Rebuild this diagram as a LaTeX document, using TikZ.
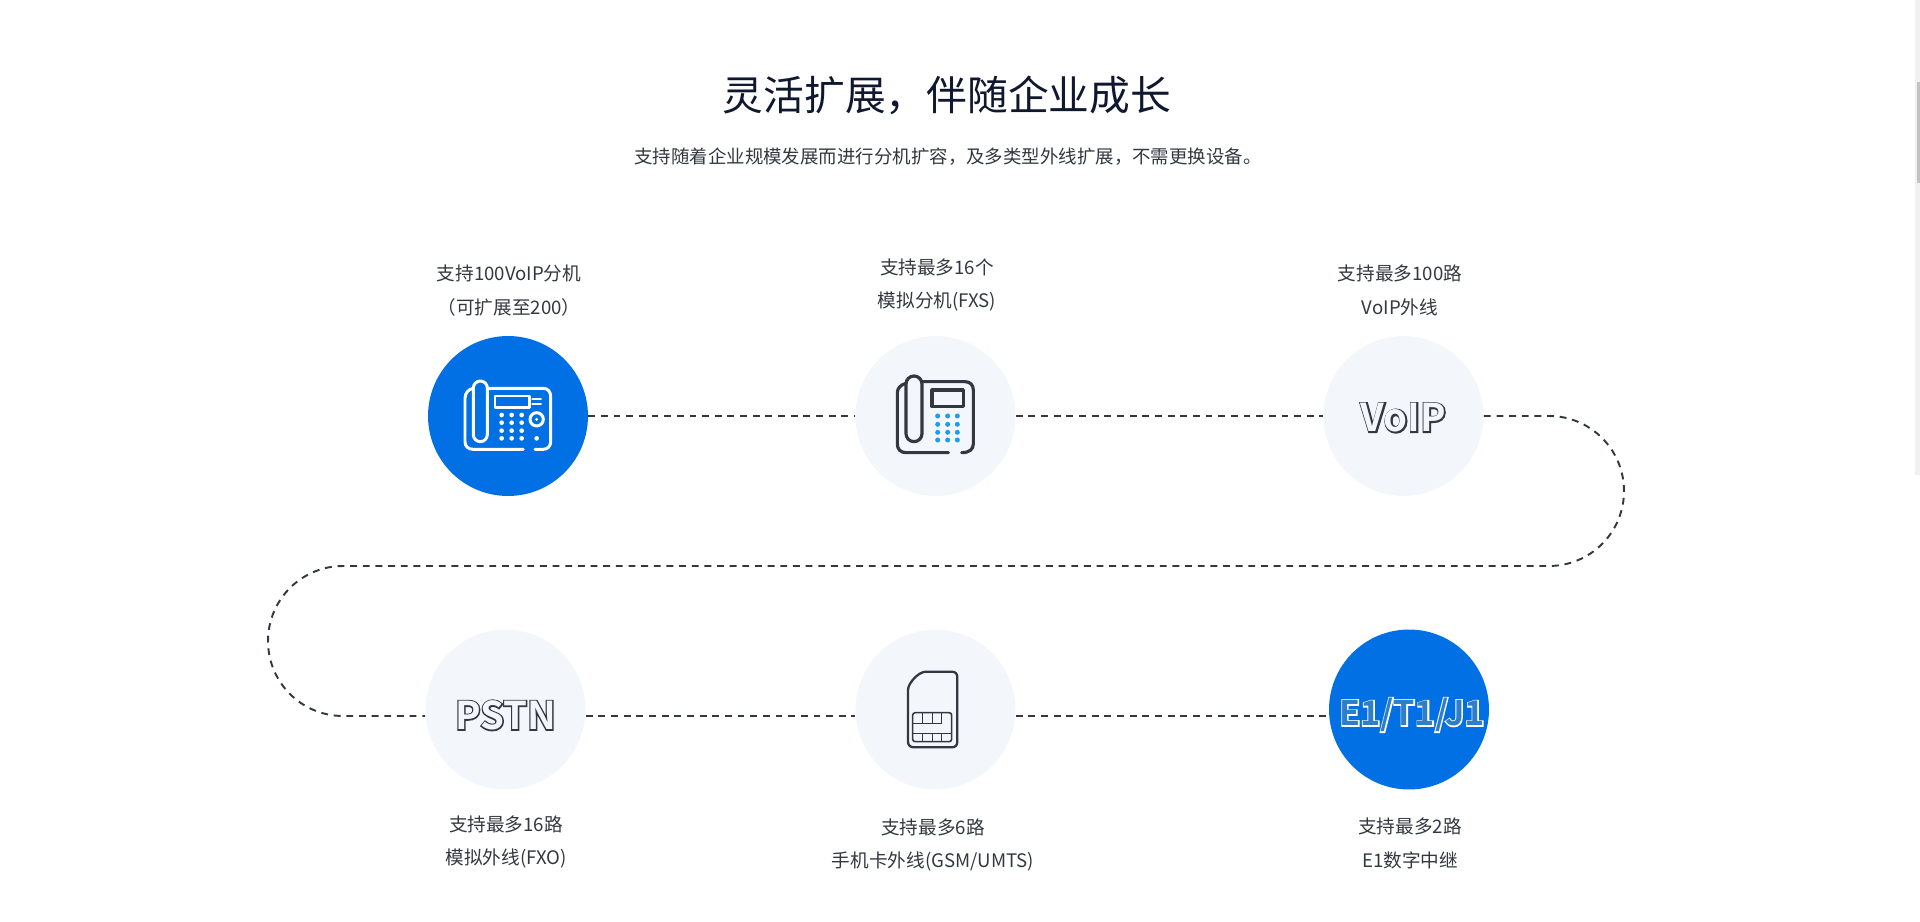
\documentclass[tikz,border=0pt]{standalone}
\usepackage{fontspec}
\setmainfont{Noto Sans CJK SC}
\newfontfamily\badgefill{Noto Sans CJK SC Bold}
\newfontfamily\badgeline{Noto Sans CJK SC Bold}[FakeBold=7]
\usetikzlibrary{positioning}
\definecolor{titleink}{HTML}{10182F}
\definecolor{bodyink}{HTML}{333840}
\definecolor{paleblue}{HTML}{F3F7FC}
\definecolor{mainblue}{HTML}{0070E4}
\definecolor{dotblue}{HTML}{1E9CF0}
\definecolor{chipblue}{HTML}{2F7FC8}
\newcommand{\outlined}[4]{\raisebox{#1}[0pt][0pt]{\rlap{\color{#2}\badgeline #4}{\color{#3}\badgefill #4}}}

\begin{document}
\begin{tikzpicture}[
    x=0.02cm, y=-0.02cm,
    title/.style={font=\fontsize{23.2pt}{27pt}\selectfont, text=titleink},
    subtitle/.style={font=\fontsize{10.5pt}{19.3pt}\selectfont, text=bodyink},
    caption/.style={align=center, font=\fontsize{10.6pt}{19.3pt}\selectfont, text=bodyink},
    stage/.style={circle, fill=paleblue, minimum size=3.2cm, inner sep=0pt},
    active/.style={stage, fill=mainblue},
    badge/.style={font=\fontsize{21.8pt}{24pt}\selectfont},
    link/.style={bodyink, line width=1.1pt, dash pattern=on 3.9pt off 3.3pt},
    whiteline/.style={white, line width=1.7pt, line cap=round, line join=round},
    darkline/.style={bodyink, line width=1.8pt, line cap=round, line join=round},
    simline/.style={bodyink, line width=0.9pt, line join=round}
]
\useasboundingbox (0,0) rectangle (1920,922);

% Heading
\node[title] (heading) at (947,95) {灵活扩展，伴随企业成长};
\node[subtitle] (subheading) at (948,157) {支持随着企业规模发展而进行分机扩容，及多类型外线扩展，不需更换设备。};

% Stages
\node[active] (ipext) at (508,416) {};
\node[stage] (fxs) at (935.5,416) {};
\node[stage, badge] (voip) at (1403.5,416) {\outlined{-9pt}{bodyink}{paleblue}{VoIP}};
\node[stage, badge] (pstn) at (505.5,709.5) {\outlined{-11.4pt}{bodyink}{paleblue}{PSTN}};
\node[stage] (gsm) at (935.5,709.5) {};
\node[active, badge, font=\fontsize{19.4pt}{24pt}\selectfont] (e1) at (1409,709.5) {\hspace*{0.12cm}\outlined{-9.2pt}{white}{chipblue}{E1/T1/J1}};

% Captions
\node[caption] (ipextcap) at (509,291) {支持100VoIP分机\\（可扩展至200）};
\node[caption] (fxscap) at (937,285) {支持最多16个\\模拟分机(FXS)};
\node[caption] (voipcap) at (1400,290) {支持最多100路\\VoIP外线};
\node[caption] (pstncap) at (506,842) {支持最多16路\\模拟外线(FXO)};
\node[caption] (gsmcap) at (933,845) {支持最多6路\\手机卡外线(GSM/UMTS)};
\node[caption] (e1cap) at (1410,843) {支持最多2路\\E1数字中继};

% Connectors
\coordinate (turnright) at (1549,416);
\coordinate (turnleft) at (343,566);
\draw[link] (ipext.east) -- (fxs.west);
\draw[link] (fxs.east) -- (voip.west);
\draw[link] (voip.east) -- (turnright) arc[start angle=90, end angle=-90, radius=1.5cm]
    -- (turnleft) arc[start angle=90, end angle=270, radius=1.5cm] -- ([yshift=-0.13cm]pstn.west);
\draw[link] ([yshift=-0.13cm]pstn.east) -- ([yshift=-0.13cm]gsm.west);
\draw[link] ([yshift=-0.13cm]gsm.east) -- ([yshift=-0.13cm]e1.west);

% Desk phone, white
\begin{scope}[shift={(410,320)}, x=0.00667cm, y=-0.00667cm]
\draw[whiteline] (190,205) .. controls (175,207) and (165,220) .. (165,235) -- (165,365)
    .. controls (165,380) and (175,388) .. (190,388) -- (340,388);
\draw[whiteline] (375,388) -- (400,388) .. controls (413,388) and (422,378) .. (422,365) -- (422,230)
    .. controls (422,215) and (413,205) .. (400,205) -- (232,205);
\draw[whiteline] (190,204) arc[start angle=180, end angle=0, radius=0.14cm] -- (232,344)
    arc[start angle=0, end angle=-180, radius=0.14cm] -- cycle;
\draw[whiteline] (255,228) rectangle (358,262);
\draw[whiteline] (368,237) -- (392,237);
\draw[whiteline] (368,252) -- (392,252);
\draw[whiteline] (380,298) circle[radius=0.133cm];
\fill[white] (380,298) circle[radius=0.033cm];
\fill[white] (380,355) circle[radius=0.047cm];
\foreach \x in {275,305,335}
  \foreach \y in {285,308,332,355}
    \fill[white] (\x,\y) circle[radius=0.047cm];
\end{scope}

% Desk phone, dark
\begin{scope}[shift={(840,320)}, x=0.00667cm, y=-0.00667cm]
\draw[darkline] (198,190) .. controls (182,194) and (172,205) .. (172,218) -- (172,372)
    .. controls (172,388) and (182,398) .. (198,398) -- (325,398);
\draw[darkline] (365,398) .. controls (388,398) and (400,388) .. (400,372) -- (400,210)
    .. controls (400,195) and (390,185) .. (375,185) -- (246,185);
\draw[darkline] (198,192) arc[start angle=180, end angle=0, radius=0.16cm] -- (246,341)
    arc[start angle=0, end angle=-180, radius=0.16cm] -- cycle;
\draw[darkline] (276,210) rectangle (370,260);
\foreach \x in {293,323,352}
  \foreach \y in {288,313,337,360}
    \fill[dotblue] (\x,\y) circle[radius=0.05cm];
\end{scope}

% SIM card
\begin{scope}[shift={(840,620)}, x=0.00667cm, y=-0.00667cm]
\draw[darkline, line width=1.3pt] (204,210) .. controls (204,190) and (235,155) .. (258,155) -- (335,155)
    .. controls (346,155) and (352,161) .. (352,172) -- (352,365)
    .. controls (352,376) and (346,382) .. (335,382) -- (222,382)
    .. controls (211,382) and (204,376) .. (204,365) -- cycle;
\draw[simline, rounded corners=0.05cm] (218,278) rectangle (335,365);
\draw[simline] (218,310) -- (305,310);
\draw[simline] (218,340) -- (335,340);
\foreach \x in {247,278,305} {
  \draw[simline] (\x,278) -- (\x,310);
  \draw[simline] (\x,340) -- (\x,365);
}
\end{scope}

% Scrollbar
\fill[black!6] (1915,0) rectangle (1920,475);
\fill[black!24] (1917,82) rectangle (1920,183);

\end{tikzpicture}
\end{document}
